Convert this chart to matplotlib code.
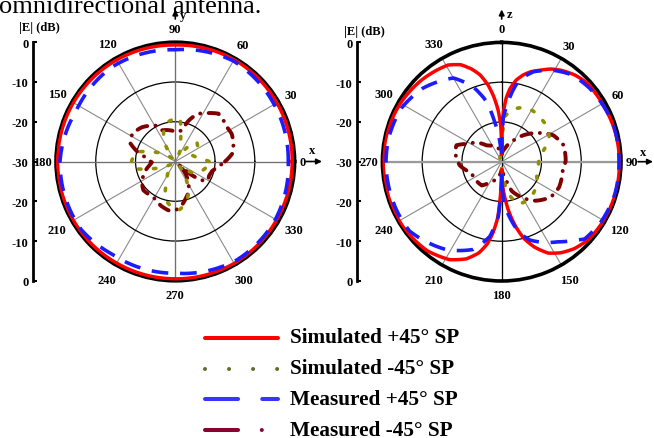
import numpy as np
import matplotlib
matplotlib.use('Agg')
import matplotlib.pyplot as plt
from matplotlib.lines import Line2D

plt.rcParams['font.family'] = ['Liberation Serif', 'DejaVu Serif']
plt.rcParams['lines.scale_dashes'] = False

# ------------------------------------------------------------------ data
angle_ticks = [0, 30, 60, 90, 120, 150, 180, 210, 240, 270, 300, 330]
scale_labels = ['0', '-10', '-20', '-30', '-20', '-10', '0']
legend_labels = ['Simulated +45\u00b0 SP', 'Simulated -45\u00b0 SP',
                 'Measured +45\u00b0 SP', 'Measured -45\u00b0 SP']

# xy-plane (left), angle counter-clockwise from +x, |E| in dB
xy_sim_p45_ang = [0, 30, 60, 90, 120, 150, 180, 210, 240, 270, 300, 330, 360]
xy_sim_p45_db = [-0.6, -0.5, -0.4, -0.7, -0.5, -0.4, -0.4, -0.4, -0.5, -0.5, -0.4, -0.6, -0.6]

xy_mea_p45_ang = [0, 30, 60, 90, 124, 153, 180, 216, 236, 270, 302, 329, 360]
xy_mea_p45_db = [-1.6, -1.3, -0.8, -1.9, -1.4, -2.0, -1.0, -0.8, -1.8, -1.9, -0.8, -0.9, -1.6]

xy_sim_m45_ang = [0, 10, 20, 30, 42, 50, 55, 62, 70, 77, 84, 95, 105, 115, 125, 135,
                  145, 157, 167, 180, 190, 195, 205, 215, 225, 235, 246, 255, 265,
                  274, 283, 292, 302, 312, 320, 328, 335, 345, 355, 360]
xy_sim_m45_db = [-21.5, -24.5, -25.5, -23.5, -22.7, -25.5, -27.5, -28.5, -26, -24, -19,
                 -19.5, -20.2, -23, -27, -29, -27, -24, -19.7, -19, -19.4, -23, -27,
                 -29, -28.5, -27, -24.8, -20.3, -18.5, -17.7, -19, -21.2, -25, -28.5,
                 -27, -24.5, -23.5, -22.5, -21.5, -21.5]

xy_mea_m45_ang = [0, 8, 17, 26, 34, 42, 48, 56, 65, 72, 78, 87, 96, 105, 113, 117, 125,
                  134, 147, 158, 165, 172, 182, 188, 194, 202, 210, 222, 232, 242, 252,
                  262, 270, 278, 285, 292, 301, 308, 313, 317, 320, 324, 330, 337, 345,
                  352, 360]
xy_mea_m45_db = [-17.5, -15.5, -14.7, -14.2, -14.4, -14.0, -13.8, -15.3, -16.8, -19.2,
                 -22.0, -22.6, -22.2, -21.8, -21.5, -19.9, -19.0, -18.0, -17.1, -17.8,
                 -20, -22.5, -24.1, -23.5, -22.6, -21.5, -20.3, -19.2, -19.4, -19.3,
                 -18.3, -17.6, -17.7, -18.8, -20.2, -21.4, -23.5, -25.5, -27, -29, -25,
                 -22, -20.5, -20.8, -20.5, -19.5, -17.5]

# xz-plane (right), angle clockwise from +z, |E| in dB
xz_sim_p45_ang = [0, 1, 2, 4, 6.5, 10, 14, 18, 23, 28, 33, 40, 47, 60, 75, 90, 105, 120,
                  132, 140, 147, 153, 159, 164, 168, 172, 175, 178, 180, 182, 184, 187,
                  190, 194, 200, 208, 220, 235, 250, 270, 285, 300, 315, 325, 331, 337,
                  342, 346, 350, 353, 356, 358.5, 360]
xz_sim_p45_db = [-28, -21, -17.5, -14, -11.5, -9.2, -7.5, -6.2, -5, -3.6, -2.6, -1.5,
                 -0.8, -0.8, -0.5, -0.4, -0.3, -0.4, -0.7, -1.5, -2.7, -4.2, -7, -10,
                 -13.5, -17.5, -21, -24, -28, -22, -16, -12, -9, -6.4, -4, -2.1, -0.8,
                 -0.3, -0.2, -0.2, -0.3, -0.6, -1.2, -1.8, -2.2, -3.5, -5.5, -7.5,
                 -10.5, -13.5, -17, -21, -28]

xz_mea_p45_ang = [0, 2, 5, 9, 12, 19.5, 30, 39, 50, 59, 72, 90, 106, 121, 133, 137, 145,
                  152, 160, 166, 170, 174, 177.5, 180, 183.5, 189, 198, 212, 233, 244,
                  256, 270, 283, 298, 313, 330, 339, 346, 350, 353, 356, 360]
xz_mea_p45_db = [-28, -19, -16, -11.8, -9, -6, -3.5, -1.9, -1.2, -0.9, -0.4, -0.5, -0.4,
                 -0.8, -1.5, -3.0, -5.4, -7, -9, -11.5, -14.5, -17.5, -20.6, -27, -16.3,
                 -11, -6.8, -3.9, -1.0, -0.9, -0.9, -0.9, -1.0, -1.4, -2.9, -5.7, -9.8,
                 -14.5, -19.9, -23, -26.5, -28]

xz_sim_m45_ang = [0, 4, 12, 22, 32, 41, 50, 62, 72, 81, 90, 100, 112, 123, 134, 146, 158,
                  166, 173, 180, 200, 240, 270, 300, 340, 356, 360]
xz_sim_m45_db = [-26, -18.6, -16.5, -15.3, -15, -15.3, -15.5, -16.5, -18.5, -20.4, -20.7,
                 -20.8, -20.5, -19.5, -18.8, -18.3, -18.5, -21, -25, -28.5, -29, -29,
                 -29, -29, -29, -28, -26]

xz_mea_m45_ang = [0, 14, 29, 44, 53, 63, 75, 89, 98, 114, 126, 139, 146, 161, 168, 180,
                  192, 210, 220, 235, 250, 265, 282, 290, 299, 306, 317, 324, 341, 360]
xz_mea_m45_db = [-28, -26.5, -23.9, -20.3, -18, -15.4, -13.9, -13.9, -14.5, -14.2, -14.8,
                 -17, -18.6, -22.2, -26, -28, -26, -24, -22.2, -22, -21.9, -19.4, -18,
                 -17.9, -20.8, -21.7, -24.4, -25, -26, -28]

# ------------------------------------------------------------------ styles
RED, OLIVE, BLUE, MAROON = '#ff0000', '#8f8f00', '#1c1cff', '#7f0000'
W, H = 654, 439
R_PX = 119.3
centers = [(175.3, 162.5), (501.7, 162.7)]

fig = plt.figure(figsize=(6.54, 4.39), dpi=100)


def polar_axes(cx, cy):
    rect = [(cx - R_PX) / W, (H - cy - R_PX) / H, 2 * R_PX / W, 2 * R_PX / H]
    ax = fig.add_axes(rect, projection='polar')
    ax.set_ylim(-30, 0)
    ax.set_yticks([-20, -10])
    ax.set_yticklabels([])
    ax.set_xticks(np.deg2rad(angle_ticks))
    ax.set_xticklabels([])
    ax.xaxis.grid(True, color='#8a8a8a', lw=0.8)
    ax.yaxis.grid(True, color='black', lw=0.9)
    ax.spines['polar'].set_linewidth(2.6)
    ax.spines['polar'].set_color('black')
    ax.set_facecolor('white')
    return ax, rect


def smooth(line, steps=40):
    # draw each segment as a curve in polar space (rendering only)
    line.get_path()._interpolation_steps = steps


def draw_curves(ax, data):
    (a1, d1), (a2, d2), (a3, d3), (a4, d4) = data
    ln, = ax.plot(np.deg2rad(a4), d4, color=MAROON, lw=2.8, dashes=(7.5, 6, 0.1, 6),
                  dash_capstyle='round', zorder=3)
    smooth(ln)
    ln, = ax.plot(np.deg2rad(a2), d2, color=OLIVE, lw=2.6, dashes=(1.8, 9.0),
                  dash_capstyle='round', zorder=3)
    smooth(ln)
    ln, = ax.plot(np.deg2rad(a1), d1, color=RED, lw=2.5, zorder=4)
    smooth(ln)
    ln, = ax.plot(np.deg2rad(a3), d3, color=BLUE, lw=2.6, dashes=(12, 8.5), zorder=5)
    smooth(ln)


# left plot
axL, rectL = polar_axes(*centers[0])
axL.set_theta_zero_location('E')
axL.set_theta_direction(1)
axL.tick_params(axis='x', length=0)
for a in [0, 90]:
    axL.plot(np.deg2rad([a, a]), [0, -30], color='#707070', lw=0.9, zorder=1.6)
    axL.plot(np.deg2rad([a + 180, a + 180]), [0, -30], color='#707070', lw=0.9, zorder=1.6)
draw_curves(axL, [(xy_sim_p45_ang, xy_sim_p45_db), (xy_sim_m45_ang, xy_sim_m45_db),
                  (xy_mea_p45_ang, xy_mea_p45_db), (xy_mea_m45_ang, xy_mea_m45_db)])

# right plot
axR, rectR = polar_axes(*centers[1])
axR.set_theta_zero_location('N')
axR.set_theta_direction(-1)
axR.tick_params(axis='x', direction='in', length=5, width=1.3, color='black')
axR.plot(np.deg2rad([0, 0]), [0, -30], color='black', lw=0.9, zorder=1.6)
axR.plot(np.deg2rad([180, 180]), [0, -30], color='black', lw=0.9, zorder=1.6)
axR.plot(np.deg2rad([90, 90]), [0, -30], color='#9a9a9a', lw=1.6, zorder=1.6)
axR.plot(np.deg2rad([270, 270]), [0, -30], color='#9a9a9a', lw=1.6, zorder=1.6)
draw_curves(axR, [(xz_sim_p45_ang, xz_sim_p45_db), (xz_sim_m45_ang, xz_sim_m45_db),
                  (xz_mea_p45_ang, xz_mea_p45_db), (xz_mea_m45_ang, xz_mea_m45_db)])

# dB scale bars
for rect, bx in [(rectL, 33.3), (rectR, 357.3)]:
    axb = fig.add_axes([bx / W, rect[1], 0.02, rect[3]])
    axb.set_ylim(-30, 30)
    axb.set_xlim(0, 1)
    axb.patch.set_visible(False)
    for s in ['top', 'right', 'bottom']:
        axb.spines[s].set_visible(False)
    axb.spines['left'].set_linewidth(2.0)
    axb.set_xticks([])
    axb.set_yticks([30, 20, 10, 0, -10, -20, -30])
    axb.set_yticklabels(scale_labels, fontsize=9, fontweight='bold')
    axb.tick_params(axis='y', direction='in', length=2.6, width=1.5, pad=3.5)

# overlay for annotations
ov = fig.add_axes([0, 0, 1, 1], zorder=10)
ov.set_xlim(0, W)
ov.set_ylim(H, 0)
ov.axis('off')

ov.text(-1, 12.7, 'omnidirectional antenna.', fontsize=19, va='baseline', ha='left')

ov.text(39, 27.7, '|E| (dB)', fontsize=9, fontweight='bold', ha='center', va='center')
ov.text(364, 31.7, '|E| (dB)', fontsize=9, fontweight='bold', ha='center', va='center')

# angle labels
for k, (cx, cy) in enumerate(centers):
    for a in angle_ticks:
        sa = a if k == 0 else 90 - a
        c, s = np.cos(np.deg2rad(sa)), np.sin(np.deg2rad(sa))
        lab = str(a)
        w = 6.0 * len(lab)
        ext = abs(c) * w / 2 + abs(s) * 4.5
        gap = 5 + 4 * abs(s)
        r = R_PX + gap + ext
        ov.text(cx + r * c, cy - r * s + 0.5, lab, fontsize=9, fontweight='bold',
                ha='center', va='center')

arrow = dict(arrowstyle='-|>', color='black', lw=1.2, mutation_scale=8,
             shrinkA=0, shrinkB=0)
# left axes arrows
ov.annotate('', xy=(175.3, 10.5), xytext=(175.3, 20), arrowprops=arrow)
ov.text(182.7, 15.5, 'y', fontsize=9, fontweight='bold', ha='center', va='center')
ov.annotate('', xy=(322, 162.5), xytext=(306, 162.5), arrowprops=arrow)
ov.text(312.3, 151, 'x', fontsize=9, fontweight='bold', ha='center', va='center')
# right axes arrows
ov.annotate('', xy=(501.7, 10.5), xytext=(501.7, 20), arrowprops=arrow)
ov.text(509.3, 15.5, 'z', fontsize=9, fontweight='bold', ha='center', va='center')
ov.annotate('', xy=(653, 162.7), xytext=(638, 162.7), arrowprops=arrow)
ov.text(642.7, 152.7, 'x', fontsize=9, fontweight='bold', ha='center', va='center')

# legend
rows = [338.5, 370, 400.5, 431.5]
leg_styles = [
    dict(color=RED, lw=2.9, solid_capstyle='round'),
    dict(color='#5b6e2d', lw=2.9, dashes=(0.01, 17.3), dash_capstyle='round'),
    dict(color='#3636ff', lw=2.9, dashes=(23.8, 17.4), dash_capstyle='round'),
    dict(color='#8c0030', lw=2.9, dashes=(23.8, 17.1, 0.01, 30), dash_capstyle='round'),
]
for y, st, lab in zip(rows, leg_styles, legend_labels):
    ov.add_line(Line2D([205.3, 277.6], [y, y], **st))
    ov.text(290, y + 4.5, lab, fontsize=15.3, fontweight='bold', ha='left', va='baseline')

fig.savefig('out.png', dpi=100)
